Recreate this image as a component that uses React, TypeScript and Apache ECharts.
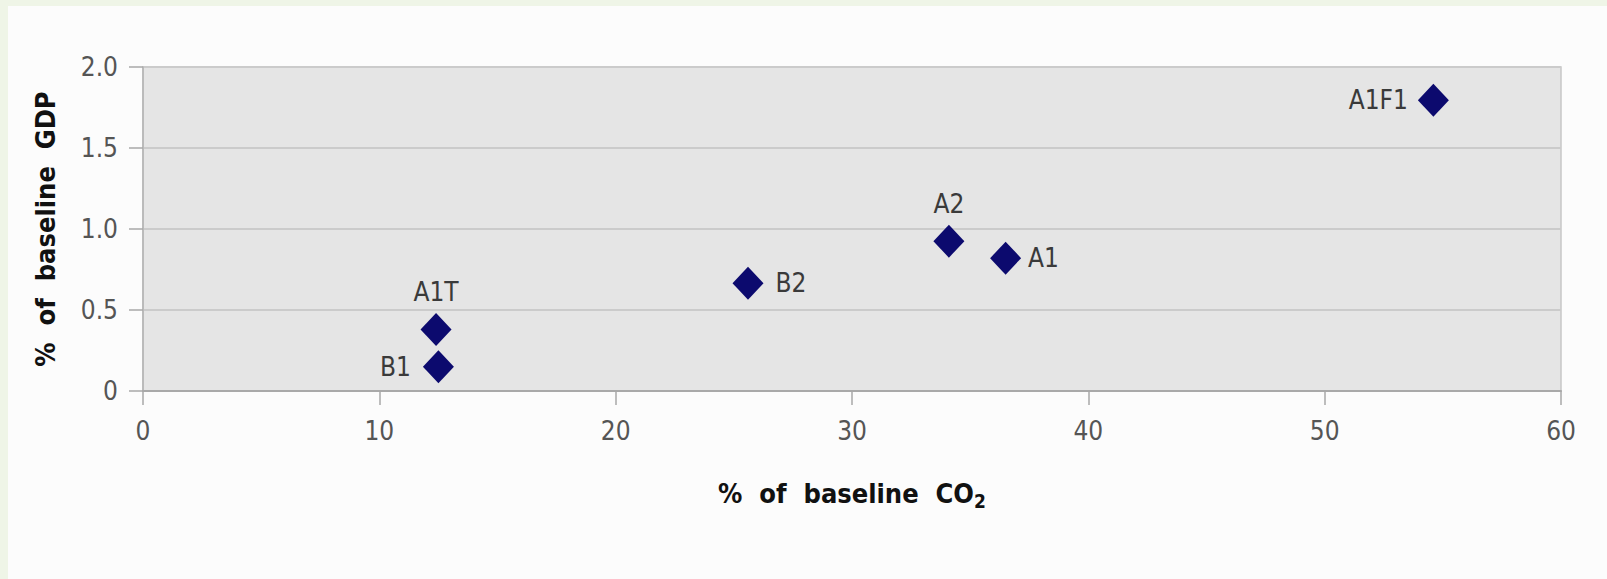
import React, { useEffect, useRef } from "react";
import * as echarts from "echarts";

const scenarios = ["B1", "A1T", "B2", "A2", "A1", "A1F1"];
const co2Values = [12.5, 12.4, 25.6, 34.1, 36.5, 54.6];
const gdpValues = [0.15, 0.38, 0.665, 0.925, 0.82, 1.795];
const labelSides = ["left", "top", "right", "top", "right", "left"];
const labelGaps = [12, 8, 12, 8, 7, 10];
const xTicks = [0, 10, 20, 30, 40, 50, 60];
const yTicks = [0, 0.5, 1.0, 1.5, 2.0];

const FONT = '"Liberation Sans Narrow", "DejaVu Sans Condensed", "Liberation Sans", sans-serif';

export default function App() {
  const ref = useRef<HTMLDivElement>(null);
  useEffect(() => {
    if (!ref.current) return;
    const chart = echarts.init(ref.current, undefined, { renderer: "svg" });
    const data = scenarios.map((name, i) => ({
      name,
      value: [co2Values[i], gdpValues[i]],
      label: {
        show: true,
        position: labelSides[i] as any,
        distance: labelGaps[i],
        formatter: name,
      },
    }));
    chart.setOption({
      animation: false,
      backgroundColor: "#fcfcfc",
      textStyle: { fontFamily: FONT },
      grid: {
        left: 135,
        top: 61,
        right: 46,
        bottom: 188,
        show: true,
        backgroundColor: "#e5e5e5",
        borderColor: "#c6c6c6",
        borderWidth: 1.5,
      },
      xAxis: {
        type: "value",
        min: xTicks[0],
        max: xTicks[xTicks.length - 1],
        interval: 10,
        name: "%  of  baseline  CO{sub|2}",
        nameLocation: "middle",
        nameGap: 86,
        nameTextStyle: {
          fontFamily: FONT,
          fontWeight: "bold",
          fontSize: 27,
          color: "#111",
          rich: {
            sub: {
              fontFamily: FONT,
              fontWeight: "bold",
              fontSize: 19,
              color: "#111",
              padding: [14, 0, 0, 0],
            },
          },
        },
        axisLine: { show: true, lineStyle: { color: "#a9a9a9", width: 2 } },
        axisTick: { show: true, length: 14, lineStyle: { color: "#a9a9a9", width: 1.5 } },
        axisLabel: { fontFamily: FONT, fontSize: 26, color: "#555", margin: 27 },
        splitLine: { show: false },
      },
      yAxis: {
        type: "value",
        min: yTicks[0],
        max: yTicks[yTicks.length - 1],
        interval: 0.5,
        name: "%  of  baseline  GDP",
        nameLocation: "middle",
        nameGap: 84,
        nameTextStyle: { fontFamily: FONT, fontWeight: "bold", fontSize: 27, color: "#111" },
        axisLine: { show: true, lineStyle: { color: "#b3b3b3", width: 1.5 } },
        axisTick: { show: true, length: 14, lineStyle: { color: "#a9a9a9", width: 1.5 } },
        axisLabel: {
          fontFamily: FONT,
          fontSize: 26,
          color: "#555",
          margin: 25,
          formatter: (v: number) => (v === 0 ? "0" : v.toFixed(1)),
        },
        splitLine: { show: true, lineStyle: { color: "#cbcbcb", width: 2 } },
      },
      series: [
        {
          type: "scatter",
          symbol: "diamond",
          symbolSize: [31, 33],
          itemStyle: { color: "#0c0a6e", opacity: 1 },
          emphasis: { disabled: true },
          label: { fontFamily: FONT, fontSize: 26, color: "#3a3a3a" },
          data,
        },
      ],
    });
    return () => chart.dispose();
  }, []);
  return (
    <div style={{ position: "absolute", left: 0, top: 0, width: 1607, height: 579, background: "#eff5e7" }}>
      <div ref={ref} style={{ position: "absolute", left: 8, top: 6, width: 1599, height: 573 }} />
    </div>
  );
}
